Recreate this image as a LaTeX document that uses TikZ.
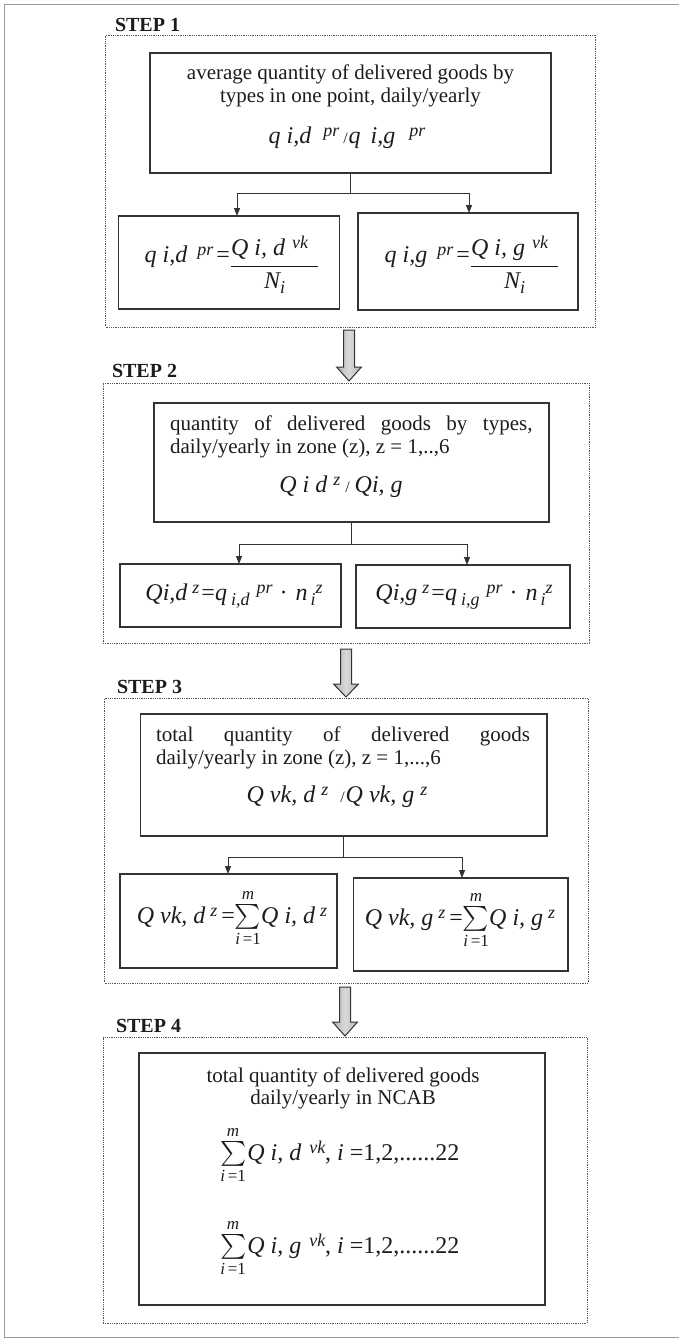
\RequirePackage{fix-cm}
\documentclass[tikz,border=0pt]{standalone}
\usepackage{amsmath}
\usepackage{exscale}
\usepackage{fontspec}
\setmainfont{Liberation Serif}
\usetikzlibrary{arrows.meta}
\definecolor{ink}{HTML}{1C1C1C}
\definecolor{edgec}{HTML}{333333}
\definecolor{dotc}{HTML}{555555}
\definecolor{outc}{HTML}{9A9A9A}
\newcommand{\fs}{\fontsize{21}{22.5}\selectfont}
\newcommand{\fm}{\fontsize{24}{26}\selectfont\itshape}
\newcommand{\scr}{\fontsize{18}{18}\selectfont\itshape}
\newcommand{\up}[1]{\raisebox{7pt}{\scr #1}}
\newcommand{\dn}[1]{\raisebox{-5pt}{\scr #1}}
\newcommand{\slsh}{{\fontsize{16}{16}\selectfont\upshape /}}
\newcommand{\lims}{\fontsize{17}{17}\selectfont\itshape}
\newcommand{\sumlim}{$\textstyle\sum\limits_{\mbox{\lims i\,\upshape=1}}^{\mbox{\lims m}}$}
\newcommand{\bigarrow}[4]{%
  \draw[bigarr] (#1-5.5,#2) -- (#1+5.5,#2) -- (#1+5.5,#3) -- (#1+12.5,#3) -- (#1,#4) -- (#1-12.5,#3) -- (#1-5.5,#3) -- cycle;}
\tikzset{
  txt/.style={inner sep=0pt, outer sep=0pt, anchor=base, font=\fs, text=ink},
  txtw/.style={txt, anchor=base west},
  lbl/.style={inner sep=0pt, outer sep=0pt, anchor=base west, font=\fontsize{20}{22}\selectfont\bfseries, text=ink},
  box/.style={draw=edgec, line width=1.1pt, inner sep=0pt, outer sep=0pt},
  frame/.style={draw=dotc, line width=0.9pt, dash pattern=on 0.9pt off 0.9pt, inner sep=0pt, outer sep=0pt},
  conn/.style={draw=edgec, line width=1pt},
  arr/.style={conn, -{Triangle[length=8pt,width=6pt]}},
  bigarr/.style={draw=edgec, line width=1pt, left color=gray!60, right color=gray!60, middle color=gray!30},
  outerline/.style={draw=outc, line width=0.6pt}
}
\begin{document}
\begin{tikzpicture}[x=1pt,y=-1pt]
\useasboundingbox (0,0) rectangle (679,1338);
\draw[outerline] (679,4) -- (4,4) -- (4,1337) -- (679,1337);

% ---------- STEP 1
\node[lbl] (L1) at (115,32) {STEP 1};
\node[frame, minimum width=490pt, minimum height=292pt] (s1) at (350.5,181) {};
\node[box, minimum width=401pt, minimum height=120pt] (b1) at (350.5,113) {};
\node[box, minimum width=221pt, minimum height=93pt] (b1l) at (229.2,262.5) {};
\node[box, minimum width=220pt, minimum height=97pt] (b1r) at (468,261.5) {};
\node[txt] (t1a) at (350.5,80) {average quantity of delivered goods by};
\node[txt] (t1b) at (350.5,102) {types in one point, daily/yearly};
\node[txt] (f1) at (347,143) {\fm q i,d\hspace{12pt}\up{pr}\hspace{4pt}\slsh\hspace{1pt}q\hspace{4pt} i,g\hspace{14pt}\up{pr}};
\node[txt] (f1l) at (232,262) {\fm q i,d\hspace{10pt}\up{pr}\hspace{3pt}{\upshape=}\raisebox{-10pt}{$\dfrac{\mbox{\fm Q i, d\hspace{7pt}\up{vk}\hspace{10pt}}}{\mbox{\fm N\dn{i}}}$}};
\node[txt] (f1r) at (472,262) {\fm q i,g\hspace{10pt}\up{pr}\hspace{3pt}{\upshape=}\raisebox{-10pt}{$\dfrac{\mbox{\fm Q i, g\hspace{7pt}\up{vk}\hspace{10pt}}}{\mbox{\fm N\dn{i}}}$}};
\coordinate (j1) at (350.5,193);
\coordinate (j1l) at (237,193);
\coordinate (j1r) at (469,193);
\draw[conn] (b1.south) -- (j1);
\draw[conn] (j1l) -- (j1r);
\draw[arr] (j1l) -- (j1l |- b1l.north);
\draw[arr] (j1r) -- (j1r |- b1r.north);

\bigarrow{349}{330}{367}{381}

% ---------- STEP 2
\node[lbl] (L2) at (112,377) {STEP 2};
\node[frame, minimum width=486pt, minimum height=260pt] (s2) at (346,513) {};
\node[box, minimum width=395pt, minimum height=119pt] (b2) at (351.5,462.5) {};
\node[box, minimum width=221pt, minimum height=63pt] (b2l) at (230.5,595.5) {};
\node[box, minimum width=214pt, minimum height=63pt] (b2r) at (463,596.5) {};
\node[txtw] (t2a) at (170,430) {\makebox[362.5pt][s]{quantity of delivered goods by types,}};
\node[txtw] (t2b) at (170,453) {daily/yearly in zone (z), z = 1,..,6};
\node[txt] (f2) at (341,492) {\fm Q i d\hspace{6pt}\up{z}\hspace{5pt}\slsh\hspace{5pt}Qi, g};
\node[txt] (f2l) at (234,600) {\fm Qi,d\hspace{5pt}\up{z}\hspace{2pt}{\upshape=}q\hspace{4pt}\dn{i,d}\hspace{7pt}\up{pr}\hspace{7pt}{\upshape\textperiodcentered}\hspace{8pt}n\hspace{3pt}\dn{i}\up{z}};
\node[txt] (f2r) at (464,600) {\fm Qi,g\hspace{5pt}\up{z}\hspace{2pt}{\upshape=}q\hspace{4pt}\dn{i,g}\hspace{7pt}\up{pr}\hspace{7pt}{\upshape\textperiodcentered}\hspace{8pt}n\hspace{3pt}\dn{i}\up{z}};
\coordinate (j2) at (351.5,544);
\coordinate (j2l) at (239,544);
\coordinate (j2r) at (467,544);
\draw[conn] (b2.south) -- (j2);
\draw[conn] (j2l) -- (j2r);
\draw[arr] (j2l) -- (j2l |- b2l.north);
\draw[arr] (j2r) -- (j2r |- b2r.north);

\bigarrow{346}{649}{684}{697}

% ---------- STEP 3
\node[lbl] (L3) at (117,693) {STEP 3};
\node[frame, minimum width=483.5pt, minimum height=285pt] (s3) at (346.25,840.5) {};
\node[box, minimum width=406.4pt, minimum height=122pt] (b3) at (343.8,775) {};
\node[box, minimum width=217pt, minimum height=94pt] (b3l) at (228.5,921) {};
\node[box, minimum width=214.6pt, minimum height=93pt] (b3r) at (460.7,924.5) {};
\node[txtw] (t3a) at (156,741) {\makebox[374pt][s]{total quantity of delivered goods}};
\node[txtw] (t3b) at (156,764) {daily/yearly in zone (z), z = 1,...,6};
\node[txt] (f3) at (337,802) {\fm Q vk, d\hspace{6pt}\up{z}\hspace{12pt}\slsh\hspace{1pt}Q vk, g\hspace{6pt}\up{z}};
\node[txt] (f3l) at (232,923) {\fm Q vk, d\hspace{5pt}\up{z}\hspace{4pt}{\upshape=}\sumlim Q i, d\hspace{5pt}\up{z}};
\node[txt] (f3r) at (460,925) {\fm Q vk, g\hspace{5pt}\up{z}\hspace{4pt}{\upshape=}\sumlim Q i, g\hspace{5pt}\up{z}};
\coordinate (j3) at (343.8,857);
\coordinate (j3l) at (228,857);
\coordinate (j3r) at (462,857);
\draw[conn] (b3.south) -- (j3);
\draw[conn] (j3l) -- (j3r);
\draw[arr] (j3l) -- (j3l |- b3l.north);
\draw[arr] (j3r) -- (j3r |- b3r.north);

\bigarrow{345}{987}{1022}{1036}

% ---------- STEP 4
\node[lbl] (L4) at (116,1032) {STEP 4};
\node[frame, minimum width=484pt, minimum height=286pt] (s4) at (345,1180) {};
\node[box, minimum width=406pt, minimum height=252pt] (b4) at (342,1179) {};
\node[txt] (t4a) at (343,1082) {total quantity of delivered goods};
\node[txt] (t4b) at (343,1104) {daily/yearly in NCAB};
\node[txtw] (f4a) at (220,1160) {\fm{\fontsize{25}{25}\selectfont\sumlim}\hspace{1pt}Q i, d\hspace{8pt}\up{vk}\upshape, \itshape i \upshape=1,2,......22};
\node[txtw] (f4b) at (220,1253) {\fm{\fontsize{25}{25}\selectfont\sumlim}\hspace{1pt}Q i, g\hspace{8pt}\up{vk}\upshape, \itshape i \upshape=1,2,......22};
\end{tikzpicture}
\end{document}
